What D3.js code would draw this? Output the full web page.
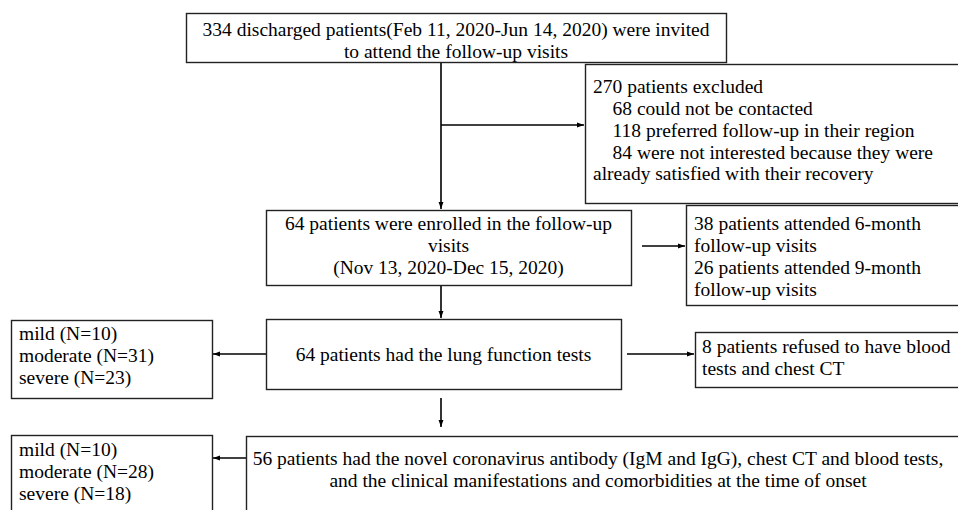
<!DOCTYPE html>
<html><head><meta charset="utf-8">
<script src="https://cdn.jsdelivr.net/npm/d3@7"></script>
<style>
html,body{margin:0;padding:0;background:#fff;overflow:hidden}
svg{display:block}
</style></head><body>
<svg id="c" width="958" height="510"></svg>
<script>
// ---- data: box texts ----
const startText   = ["334 discharged patients(Feb 11, 2020-Jun 14, 2020) were invited", "to attend the follow-up visits"];
const excludedText = ["270 patients excluded", "    68 could not be contacted", "    118 preferred follow-up in their region", "    84 were not interested because they were", "already satisfied with their recovery"];
const enrolledText = ["64 patients were enrolled in the follow-up", "visits", "(Nov 13, 2020-Dec 15, 2020)"];
const visitsText   = ["38 patients attended 6-month", "follow-up visits", "26 patients attended 9-month", "follow-up visits"];
const lungText     = ["64 patients had the lung function tests"];
const lungSeverity = ["mild (N=10)", "moderate (N=31)", "severe (N=23)"];
const refusedText  = ["8 patients refused to have blood", "tests and chest CT"];
const finalText    = ["56 patients had the novel coronavirus antibody (IgM and IgG), chest CT and blood tests,", "and the clinical manifestations and comorbidities at the time of onset"];
const finalSeverity = ["mild (N=10)", "moderate (N=28)", "severe (N=18)"];

// ---- layout ----
const FONT = "'Liberation Serif', 'Times New Roman', Tinos, serif";
const LH = 21.8;
const boxes = [
  {id:"start",    lines:startText,    x:186, y:13,  w:540, h:49,  align:"middle", cy:40},
  {id:"excluded", lines:excludedText, x:585, y:64,  w:420, h:139, align:"start",  cy:130, tx:593},
  {id:"enrolled", lines:enrolledText, x:266, y:210, w:365, h:75,  align:"middle", cy:245},
  {id:"visits",   lines:visitsText,   x:686, y:205, w:300, h:100, align:"start",  cy:256, tx:694},
  {id:"lung",     lines:lungText,     x:266, y:319, w:355, h:70,  align:"middle", cy:354},
  {id:"lungsev",  lines:lungSeverity, x:11,  y:320, w:201, h:78,  align:"start",  cy:355, tx:19},
  {id:"refused",  lines:refusedText,  x:695, y:332, w:300, h:55,  align:"start",  cy:357, tx:702},
  {id:"final",    lines:finalText,    x:246, y:436, w:750, h:100, align:"middle", cy:469, tcx:598},
  {id:"finalsev", lines:finalSeverity,x:11,  y:435, w:201, h:100, align:"start",  cy:471, tx:19}
];
const arrows = [
  {pts:[[441,62],[441,209]]},
  {pts:[[441,125],[584,125]]},
  {pts:[[642,246],[685,246]]},
  {pts:[[441,285],[441,318]]},
  {pts:[[266,354],[213,354]]},
  {pts:[[627,354],[694,354]]},
  {pts:[[441,398],[441,427]]},
  {pts:[[246,458],[213,458]]}
];

const svg = d3.select("#c");
svg.append("defs").append("marker")
  .attr("id","ah").attr("viewBox","0 0 10 10").attr("refX",10).attr("refY",5)
  .attr("markerWidth",7).attr("markerHeight",7).attr("markerUnits","userSpaceOnUse")
  .attr("orient","auto")
  .append("path").attr("d","M0,1.5L10,5L0,8.5Z").attr("fill","#000");

const line = d3.line();
svg.selectAll("path.arrow").data(arrows).join("path")
  .attr("class","arrow").attr("d",d=>line(d.pts))
  .attr("stroke","#000").attr("stroke-width",1.6).attr("fill","none")
  .attr("marker-end","url(#ah)");

const g = svg.selectAll("g.box").data(boxes).join("g").attr("class","box");
g.append("rect")
  .attr("x",d=>d.x+0.5).attr("y",d=>d.y+0.5).attr("width",d=>d.w).attr("height",d=>d.h)
  .attr("fill","#fff").attr("stroke","#222").attr("stroke-width",1.4);
g.each(function(d){
  const n = d.lines.length;
  const y0 = d.cy - (n-1)*LH/2;
  const t = d3.select(this).append("text")
    .attr("font-family",FONT).attr("font-size","19.5px").attr("fill","#000")
    .attr("text-anchor",d.align).attr("xml:space","preserve").style("white-space","pre");
  d.lines.forEach((s,i)=>{
    t.append("tspan")
      .attr("x", d.align==="middle" ? (d.tcx!==undefined?d.tcx:d.x+d.w/2) : d.tx)
      .attr("y", y0 + i*LH)
      .attr("dy","0.35em")
      .text(s);
  });
});
</script>
</body></html>
